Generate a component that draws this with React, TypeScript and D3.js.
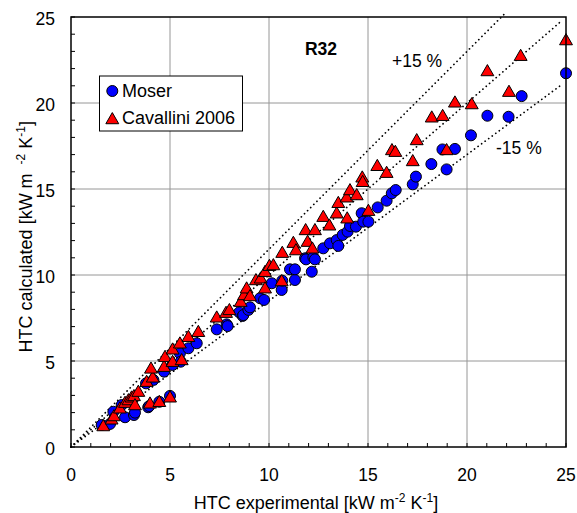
import React from "react";
import * as d3 from "d3";

const mosX = [1.55,1.97,2.14,2.56,2.73,3.18,3.23,3.79,3.9,3.95,4.16,4.46,4.7,5.0,5.13,5.5,5.54,5.93,6.35,7.36,7.86,7.91,8.5,8.67,8.7,8.96,9.04,9.55,9.75,10.14,10.64,10.67,11.06,11.31,11.31,11.82,11.87,12.16,12.24,12.32,12.74,13.08,13.42,13.5,13.72,13.97,14.09,14.39,14.68,14.76,15.02,15.49,15.94,16.2,16.4,17.26,17.42,18.2,18.97,18.76,19.39,20.2,21.03,22.1,22.76,25.0];
const mosY = [1.28,1.34,2.05,2.44,1.73,1.86,2.0,3.7,2.31,2.38,3.9,2.63,4.38,2.97,4.77,5.45,4.96,5.74,6.03,6.84,7.13,7.03,7.83,7.62,7.67,7.97,8.12,8.65,8.55,9.52,9.13,9.67,10.33,9.71,10.33,10.97,10.91,10.19,11.03,10.91,11.55,11.84,12.03,11.69,12.33,12.52,12.85,12.81,13.59,13.1,13.1,13.93,14.32,14.75,14.94,15.27,15.72,16.45,16.14,17.3,17.33,18.12,19.26,19.2,20.4,21.73];

const cavX = [1.63,2.05,2.17,2.47,2.73,2.9,3.06,3.18,3.23,3.4,3.82,3.99,4.13,4.04,4.46,4.7,4.75,5.0,5.13,5.13,5.5,5.59,5.93,6.43,7.36,7.83,8.0,8.57,8.74,8.87,9.04,9.34,9.58,9.8,9.8,10.02,10.22,10.64,10.67,11.23,11.36,11.95,11.85,12.19,12.32,12.74,13.05,13.42,13.5,13.92,13.95,14.09,14.43,14.71,14.73,15.02,15.47,15.94,16.21,16.38,17.26,17.46,18.22,18.77,18.97,19.39,20.24,21.03,22.12,22.71,25.0];
const cavY = [1.22,1.61,1.8,2.25,2.58,2.73,2.89,2.97,2.44,3.22,3.8,2.54,4.05,4.57,2.63,4.67,5.25,2.89,4.96,5.68,6.03,5.06,6.41,6.7,7.54,7.81,7.97,8.45,8.84,9.23,8.78,9.71,9.81,9.23,10.19,10.54,10.58,9.65,11.3,11.88,11.45,11.94,12.62,11.55,12.62,13.39,12.89,13.59,14.2,14.52,13.3,14.94,14.65,15.68,15.42,13.74,16.35,15.95,17.27,17.17,16.63,17.85,19.17,19.26,17.27,20.04,19.94,21.86,20.66,22.75,23.66];

const tickVals = [0, 5, 10, 15, 20, 25];
const minorVals = d3.range(0, 26, 1);
const refLines = [
  { k: 1.0, xEnd: 24.75 },
  { k: 1.15, xEnd: 21.97 },
  { k: 0.85, xEnd: 24.78 },
];

const W = 577, H = 513;
const L = 71, R = 566, T = 17, B = 447;

export default function App() {
  const x = d3.scaleLinear().domain([0, 25]).range([L, R]);
  const y = d3.scaleLinear().domain([0, 25]).range([B, T]);
  const font = "'Liberation Sans', Arial, sans-serif";
  const tri = d3.symbol().type(d3.symbolTriangle).size(72)();
  const line = d3.line<[number, number]>().x(d => x(d[0])).y(d => y(d[1]));
  const moser = mosX.map((v, i) => [v, mosY[i]]);
  const cav = cavX.map((v, i) => [v, cavY[i]]);
  return (
    <svg width={W} height={H} style={{ position: "absolute", left: 0, top: 0, background: "#fff" }} fontFamily={font}>
      <rect x={0} y={0} width={W} height={H} fill="#fff" />
      {tickVals.slice(1, -1).map(t => (
        <g key={"g" + t}>
          <line x1={x(t)} x2={x(t)} y1={T} y2={B} stroke="#969696" strokeWidth={1} />
          <line x1={L} x2={R} y1={y(t)} y2={y(t)} stroke="#969696" strokeWidth={1} />
        </g>
      ))}
      {minorVals.map(t => (
        <g key={"m" + t}>
          <line x1={x(t)} x2={x(t)} y1={B} y2={B - 4} stroke="#000" strokeWidth={1} />
          <line x1={L} x2={L + 4} y1={y(t)} y2={y(t)} stroke="#000" strokeWidth={1} />
        </g>
      ))}
      {refLines.map((r, i) => (
        <path key={"r" + i} d={line([[0, 0], [r.xEnd, r.k * r.xEnd]]) || ""} fill="none" stroke="#000" strokeWidth={1.7} strokeDasharray="0.1,4.3" strokeLinecap="round" />
      ))}
      {moser.map((p, i) => (
        <circle key={"c" + i} cx={x(p[0])} cy={y(p[1])} r={5.5} fill="#0000ff" stroke="#000" strokeWidth={1} />
      ))}
      {cav.map((p, i) => (
        <path key={"t" + i} d={tri || ""} transform={`translate(${x(p[0])},${y(p[1]) + 1})`} fill="#ff0000" stroke="#000" strokeWidth={1} />
      ))}
      <rect x={L} y={T} width={R - L} height={B - T} fill="none" stroke="#000" strokeWidth={1.5} />
      {tickVals.map(t => (
        <text key={"xl" + t} x={x(t)} y={481} textAnchor="middle" fontSize={17.5}>{t}</text>
      ))}
      {tickVals.map(t => (
        <text key={"yl" + t} x={55} y={y(t) + 8} textAnchor="end" fontSize={17.5}>{t}</text>
      ))}
      <text x={316} y={509} textAnchor="middle" fontSize={18}>
        HTC experimental [kW m<tspan dy={-7} fontSize={12}>-2</tspan><tspan dy={7}> K</tspan><tspan dy={-7} fontSize={12}>-1</tspan><tspan dy={7}>]</tspan>
      </text>
      <text transform={`translate(32,121) rotate(-90)`} textAnchor="end" fontSize={18}>
        HTC calculated [kW m<tspan dx={9} dy={-7} fontSize={12}>-2</tspan><tspan dy={7}> K</tspan><tspan dy={-7} fontSize={12}>-1</tspan><tspan dy={7}>]</tspan>
      </text>
      <text x={321} y={55} textAnchor="middle" fontSize={17.5} fontWeight="bold">R32</text>
      <text x={392} y={66.5} fontSize={17.5}>+15 %</text>
      <text x={496} y={154} fontSize={17.5}>-15 %</text>
      <rect x={99.5} y={76} width={143} height={55} fill="#fff" stroke="#000" strokeWidth={1} />
      <circle cx={112.3} cy={91} r={5.5} fill="#0000ff" stroke="#000" strokeWidth={1} />
      <text x={122} y={97} fontSize={18}>Moser</text>
      <path d={tri || ""} transform="translate(112.3,120)" fill="#ff0000" stroke="#000" strokeWidth={1} />
      <text x={122} y={124} fontSize={18}>Cavallini 2006</text>
    </svg>
  );
}
